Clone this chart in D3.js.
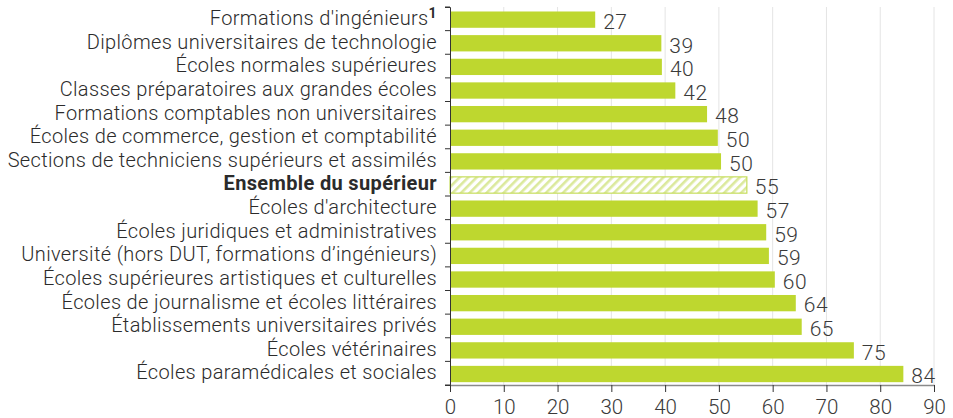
<!DOCTYPE html>
<html>
<head>
<meta charset="utf-8">
<script src="https://cdn.jsdelivr.net/npm/d3@7"></script>
<style>
  body { margin: 0; background: #fff; }
  svg text { font-family: Roboto, "DejaVu Sans", sans-serif; }
</style>
</head>
<body>
<svg width="953" height="418"></svg>
<script>
const categories = [
  "Formations d'ingénieurs",
  "Diplômes universitaires de technologie",
  "Écoles normales supérieures",
  "Classes préparatoires aux grandes écoles",
  "Formations comptables non universitaires",
  "Écoles de commerce, gestion et comptabilité",
  "Sections de techniciens supérieurs et assimilés",
  "Ensemble du supérieur",
  "Écoles d'architecture",
  "Écoles juridiques et administratives",
  "Université (hors DUT, formations d’ingénieurs)",
  "Écoles supérieures artistiques et culturelles",
  "Écoles de journalisme et écoles littéraires",
  "Établissements universitaires privés",
  "Écoles vétérinaires",
  "Écoles paramédicales et sociales"
];
const values = [27, 39, 40, 42, 48, 50, 50, 55, 57, 59, 59, 60, 64, 65, 75, 84];
const barLengths = [27, 39.3, 39.4, 41.9, 47.8, 49.8, 50.4, 55.2, 57.2, 58.8, 59.3, 60.4, 64.3, 65.4, 75.1, 84.3];
const xTicks = [0, 10, 20, 30, 40, 50, 60, 70, 80, 90];
const totalLabel = "Ensemble du supérieur";
const footnotes = {"Formations d'ingénieurs": "1"};

const data = categories.map((c, i) => ({name: c, value: values[i], len: barLengths[i]}));

const svg = d3.select("svg");
const margin = {top: 7, left: 450, right: 19, bottom: 33};
const width = 953, height = 418;
const innerW = width - margin.left - margin.right;
const innerH = height - margin.top - margin.bottom;

const defs = svg.append("defs");
const pat = defs.append("pattern")
  .attr("id", "hatch")
  .attr("patternUnits", "userSpaceOnUse")
  .attr("width", 6).attr("height", 6)
  .attr("patternTransform", "rotate(-45)");
pat.append("rect").attr("width", 6).attr("height", 6).attr("fill", "#fff");
pat.append("rect").attr("width", 6).attr("height", 2.6).attr("fill", "#dbe99c");

const x = d3.scaleLinear().domain([0, 90]).range([0, innerW]);
const y = d3.scaleBand().domain(categories).range([0, innerH]).padding(0);

const g = svg.append("g").attr("transform", `translate(${margin.left},${margin.top})`);

// grid
g.append("g").selectAll("line").data(xTicks.slice(1)).join("line")
  .attr("x1", d => x(d)).attr("x2", d => x(d))
  .attr("y1", 0).attr("y2", innerH)
  .attr("stroke", "#e4e4e4").attr("stroke-width", 1);

// bars
const step = y.step();
g.selectAll("rect.bar").data(data).join("rect")
  .attr("class", "bar")
  .attr("x", 0)
  .attr("y", d => y(d.name) + step * 0.19)
  .attr("width", d => x(d.len))
  .attr("height", step * 0.69)
  .attr("fill", d => d.name === totalLabel ? "url(#hatch)" : "#bed72f")
  .attr("stroke", d => d.name === totalLabel ? "#c6dd5c" : "none")
  .attr("stroke-width", 1.2);

// value labels
g.selectAll("text.val").data(data).join("text")
  .attr("class", "val")
  .attr("x", d => x(d.len) + 8)
  .attr("y", d => y(d.name) + step * 0.53)
  .attr("dy", "0.45em")
  .attr("font-size", 21)
  .attr("font-weight", 300)
  .attr("letter-spacing", 0.5)
  .attr("fill", "#3a3a3a")
  .text(d => d.value);

// category labels
const lab = g.selectAll("text.cat").data(data).join("text")
  .attr("class", "cat")
  .attr("x", -13)
  .attr("y", d => y(d.name) + step * 0.47)
  .attr("dy", "0.35em")
  .attr("text-anchor", "end")
  .attr("font-size", 20)
  .attr("letter-spacing", 0.35)
  .attr("font-weight", d => d.name === totalLabel ? 700 : 300)
  .attr("fill", "#2b2b2b");
lab.append("tspan").text(d => d.name);
lab.filter(d => footnotes[d.name]).append("tspan")
  .attr("font-weight", 700).attr("font-size", 14).attr("dy", "-0.5em")
  .text(d => footnotes[d.name]);

// y axis
const yAxisG = g.append("g").call(d3.axisLeft(y).tickSize(5).tickFormat(""));
yAxisG.selectAll(".tick").attr("transform", d => `translate(0,${y(d)})`);
yAxisG.selectAll(".tick line").attr("stroke", "#333");
yAxisG.select(".domain").attr("stroke", "#333");
yAxisG.append("line").attr("x1", -5).attr("x2", 0).attr("y1", innerH).attr("y2", innerH).attr("stroke", "#333");

// x axis
const xAxisG = g.append("g").attr("transform", `translate(0,${innerH})`)
  .call(d3.axisBottom(x).tickValues(xTicks).tickSize(7).tickSizeOuter(0));
xAxisG.select(".domain").attr("stroke", "#8a8a8a").attr("stroke-width", 1.5);
xAxisG.selectAll(".tick line").attr("stroke", "#333");
xAxisG.selectAll(".tick text")
  .attr("font-size", 20.5).attr("font-weight", 300).attr("fill", "#3a3a3a")
  .attr("y", 12).attr("dy", "0.85em")
  .style("font-family", "Roboto, sans-serif");
</script>
</body>
</html>
